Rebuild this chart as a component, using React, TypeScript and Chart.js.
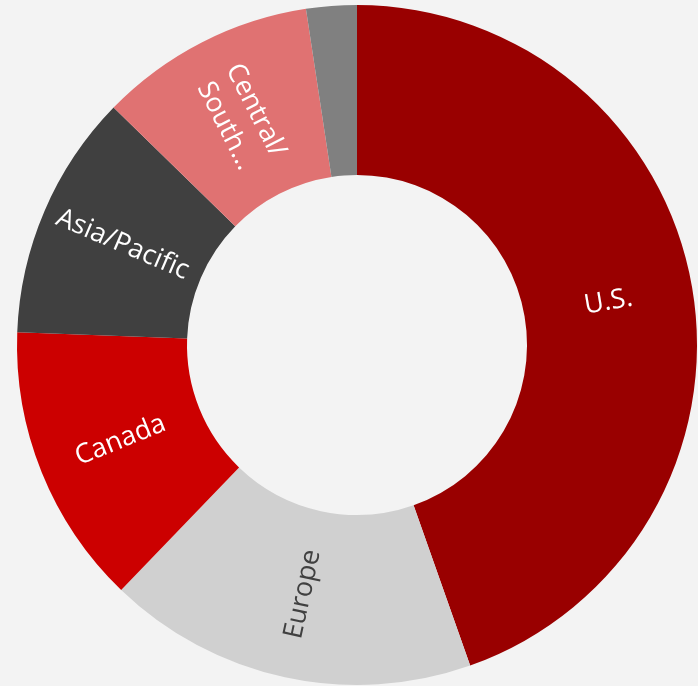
import React, { useEffect, useRef } from "react";
import { Chart, registerables } from "chart.js";

Chart.register(...registerables);

const categories = ["U.S.", "Europe", "Canada", "Asia/Pacific", "Central/South America", "Other"];
const shares = [44.6, 17.6, 13.4, 11.7, 10.3, 2.4];
const sliceLabels: string[][] = [["U.S."], ["Europe"], ["Canada"], ["Asia/Pacific"], ["Central/", "South…"], []];
const sliceColors = ["#990000", "#d0d0d0", "#cc0000", "#404040", "#e07272", "#808080"];
const labelColors = ["#ffffff", "#404040", "#ffffff", "#ffffff", "#ffffff", "#ffffff"];

const radialLabels = {
  id: "radialLabels",
  afterDatasetsDraw(chart: any) {
    const ctx = chart.ctx;
    const meta = chart.getDatasetMeta(0);
    meta.data.forEach((arc: any, i: number) => {
      const lines = sliceLabels[i];
      if (!lines || lines.length === 0) return;
      const { x, y, startAngle, endAngle, innerRadius, outerRadius } = arc.getProps(
        ["x", "y", "startAngle", "endAngle", "innerRadius", "outerRadius"],
        true
      );
      const mid = (startAngle + endAngle) / 2;
      const r = (innerRadius + outerRadius) / 2;
      const px = x + Math.cos(mid) * r;
      const py = y + Math.sin(mid) * r;
      let rot = mid;
      while (rot > Math.PI / 2) rot -= Math.PI;
      while (rot <= -Math.PI / 2) rot += Math.PI;
      ctx.save();
      ctx.translate(px, py);
      ctx.rotate(rot);
      ctx.fillStyle = labelColors[i];
      ctx.font = '27px "Open Sans", "Noto Sans", sans-serif';
      ctx.textAlign = "center";
      ctx.textBaseline = "middle";
      const lh = 34;
      lines.forEach((ln, k) => {
        ctx.fillText(ln, 0, (k - (lines.length - 1) / 2) * lh);
      });
      ctx.restore();
    });
  },
};

export default function App() {
  const ref = useRef<HTMLCanvasElement>(null);
  useEffect(() => {
    document.body.style.margin = "0";
    document.body.style.background = "#f3f3f3";
    const chart = new Chart(ref.current!, {
      type: "doughnut",
      data: {
        labels: categories,
        datasets: [
          {
            data: shares,
            backgroundColor: sliceColors,
            borderWidth: 0,
          },
        ],
      },
      options: {
        animation: false,
        responsive: false,
        cutout: "50%",
        layout: { padding: { left: 17, top: 5, right: 1, bottom: 1 } },
        plugins: {
          legend: { display: false },
          tooltip: { enabled: false },
        },
      },
      plugins: [radialLabels],
    });
    return () => chart.destroy();
  }, []);
  return (
    <div style={{ position: "fixed", left: 0, top: 0, width: 698, height: 686, background: "#f3f3f3" }}>
      <canvas ref={ref} width={698} height={686} style={{ display: "block" }} />
    </div>
  );
}
